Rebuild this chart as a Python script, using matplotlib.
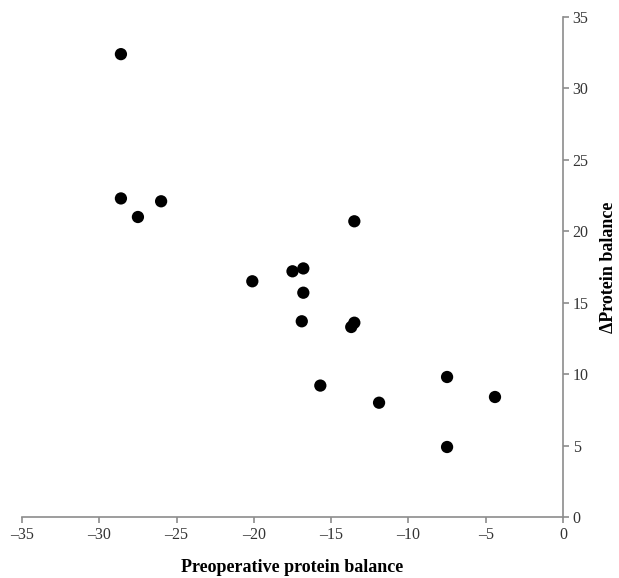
import matplotlib
matplotlib.use('agg')
import matplotlib.pyplot as plt

# Preoperative protein balance vs change in protein balance
preop = [-28.6, -28.6, -27.5, -26.0, -13.5, -20.1, -17.5, -16.8, -16.8, -16.9,
         -13.5, -13.7, -15.7, -11.9, -7.5, -4.4, -7.5]
delta = [32.4, 22.3, 21.0, 22.1, 20.7, 16.5, 17.2, 17.4, 15.7, 13.7,
         13.6, 13.3, 9.2, 8.0, 9.8, 8.4, 4.9]

x_ticks = [-35, -30, -25, -20, -15, -10, -5, 0]
y_ticks = [0, 5, 10, 15, 20, 25, 30, 35]

plt.rcParams["font.family"] = ["Liberation Serif", "DejaVu Serif"]

fig = plt.figure(figsize=(6.19, 5.78), dpi=100)
ax = fig.add_axes([22 / 619, 61 / 578, 541 / 619, 500 / 578])

ax.scatter(preop, delta, s=78, c='black', edgecolors='none', zorder=3)

ax.set_xlim(-35, 0)
ax.set_ylim(0, 35)
ax.set_xticks(x_ticks)
ax.set_yticks(y_ticks)
ax.set_xticklabels([str(t).replace('-', '\u2013') for t in x_ticks])

# only bottom and right spines, grey like the original
for side in ['top', 'left']:
    ax.spines[side].set_visible(False)
for side in ['bottom', 'right']:
    ax.spines[side].set_color('#8c8c8c')
    ax.spines[side].set_linewidth(1.2)

ax.yaxis.tick_right()
ax.yaxis.set_label_position('right')
ax.tick_params(axis='both', colors='#8c8c8c', length=4, width=1.2,
               labelsize=11.5, labelcolor='#333333', direction='out')
ax.tick_params(axis='x', pad=3)
ax.tick_params(axis='y', pad=3)

ax.set_xlabel("Preoperative protein balance", fontsize=13, fontweight='bold',
              labelpad=12)
ax.set_ylabel("\u0394Protein balance", fontsize=13, fontweight='bold',
              labelpad=8, rotation=90)

fig.savefig("out.png", dpi=100, facecolor='white')
